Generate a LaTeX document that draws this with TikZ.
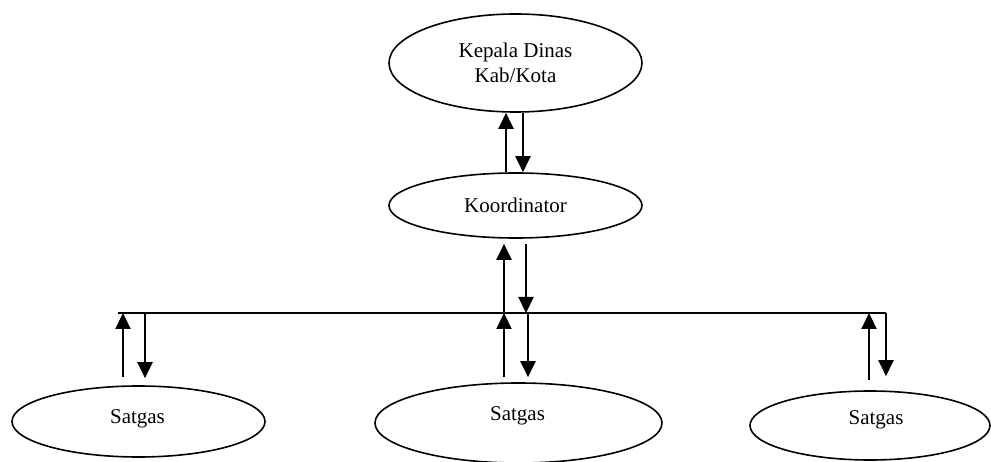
\documentclass[tikz,border=0pt]{standalone}
\usepackage{fontspec}
\setmainfont{Liberation Serif}
\usetikzlibrary{shapes.geometric,arrows.meta}
\begin{document}
\begin{tikzpicture}[x=1pt,y=-1pt,
  oval/.style={ellipse,draw,line width=1.6pt,inner sep=0pt},
  txt/.style={font=\fontsize{21}{25}\selectfont,align=center},
  arr/.style={line width=2.2pt,-{Triangle[length=16pt,width=15pt]}},
  bus/.style={line width=1.6pt}]
\useasboundingbox (0,0) rectangle (991,462);

% organisation units
\node[oval,txt,minimum width=253pt,minimum height=98pt] (kepala) at (515.5,63) {Kepala Dinas\\Kab/Kota};
\node[oval,txt,minimum width=253pt,minimum height=65pt] (koor) at (515.5,205.5) {Koordinator};
\node[oval,minimum width=253pt,minimum height=71pt,
  label={[txt,xshift=-1pt,yshift=2.5pt]center:Satgas}] (s1) at (138.5,421.5) {};
\node[oval,minimum width=287pt,minimum height=80pt,
  label={[txt,xshift=-1pt,yshift=7pt]center:Satgas}] (s2) at (518.5,423) {};
\node[oval,minimum width=240pt,minimum height=69pt,
  label={[txt,xshift=6pt,yshift=5.5pt]center:Satgas}] (s3) at (870,425.5) {};

% distribution line
\coordinate (busL) at (118,313);
\coordinate (busR) at (886,313);
\draw[bus] (busL) -- (busR);

% arrow columns
\coordinate (ku) at (506,0);
\coordinate (kd) at (523,0);
\coordinate (mu) at (504,317);
\coordinate (md) at (526,313);
\coordinate (b1u) at (123,313);
\coordinate (b1d) at (145,313);
\coordinate (b2u) at (504,313);
\coordinate (b2d) at (528,313);
\coordinate (b3u) at (869,313);
\coordinate (b3d) at (886,313);

% Kepala Dinas <-> Koordinator
\draw[arr] (koor.north -| ku) -- (kepala.south -| ku);
\draw[arr] (kepala.south -| kd) -- (koor.north -| kd);

% Koordinator <-> line
\draw[arr,shorten >=5pt] (mu) -- (koor.south -| mu);
\draw[arr,shorten <=5pt] (koor.south -| md) -- (md);

% Satgas <-> line
\draw[arr,shorten <=8pt] (s1.north -| b1u) -- (b1u);
\draw[arr,shorten >=7pt] (b1d) -- (s1.north -| b1d);
\draw[arr,shorten <=5pt] (s2.north -| b2u) -- (b2u);
\draw[arr,shorten >=5pt] (b2d) -- (s2.north -| b2d);
\draw[arr,shorten <=10pt] (s3.north -| b3u) -- (b3u);
\draw[arr,shorten >=14pt] (b3d) -- (s3.north -| b3d);
\end{tikzpicture}
\end{document}
